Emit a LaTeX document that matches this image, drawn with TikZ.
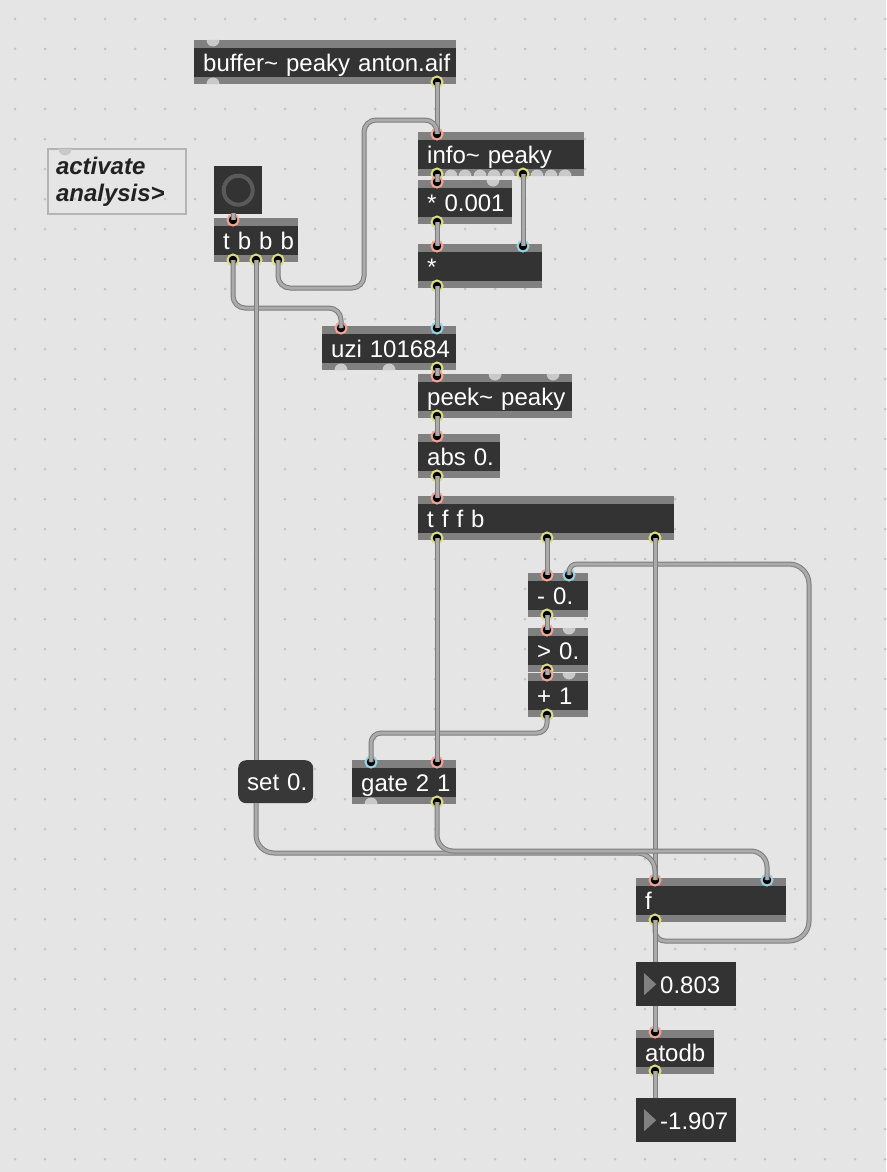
\documentclass[tikz,border=0pt]{standalone}
\usepackage{fontspec}
\newfontfamily\maxfont{Liberation Sans}[Ligatures=NoCommon]
\definecolor{patchbg}{HTML}{E5E5E5}
\definecolor{gridgray}{HTML}{C4C4C4}
\definecolor{boxdark}{HTML}{333333}
\definecolor{msgdark}{HTML}{383838}
\definecolor{bandgray}{HTML}{808080}
\definecolor{portgray}{HTML}{C9C9C9}
\definecolor{porthot}{HTML}{F2A595}
\definecolor{portcold}{HTML}{96D4E4}
\definecolor{portout}{HTML}{DCDC82}
\definecolor{cordedge}{HTML}{7C7C7C}
\definecolor{cordfill}{HTML}{ABABAB}
\definecolor{commentline}{HTML}{B4B4B4}
\definecolor{commentink}{HTML}{222222}
\definecolor{bangring}{HTML}{5A5A5A}

\begin{document}
\begin{tikzpicture}[x=1pt,y=-1pt,
  maxtext/.style={font={\maxfont\fontsize{24}{27}\selectfont},text=white,anchor=north west,inner sep=0pt,align=left,text height=20pt,text depth=2pt},
  obj/.style={maxtext,fill=boxdark,text width=#1,minimum height=44pt,execute at begin node={\leftskip=9pt},
    path picture={\fill[bandgray] (path picture bounding box.north west) rectangle ([yshift=-8pt]path picture bounding box.north east);
      \fill[bandgray] (path picture bounding box.south west) rectangle ([yshift=7pt]path picture bounding box.south east);}},
  msg/.style={maxtext,fill=msgdark,rounded corners=8pt,text width=#1,minimum height=43pt,execute at begin node={\leftskip=9pt}},
  numbox/.style={maxtext,fill=boxdark,text width=100pt,minimum height=44pt,execute at begin node={\leftskip=24pt},
    path picture={\fill[bandgray] ([xshift=8pt,yshift=-11pt]path picture bounding box.north west) -- ([xshift=8pt,yshift=-33pt]path picture bounding box.north west) -- ([xshift=20pt,yshift=-22pt]path picture bounding box.north west) -- cycle;}},
  comment/.style={draw=commentline,line width=2pt,anchor=north west,inner sep=0pt,text width=138pt,minimum height=65pt,align=left,text=commentink,
    font={\maxfont\bfseries\itshape\fontsize{24}{27}\selectfont},execute at begin node={\leftskip=8pt}},
  bangbox/.style={fill=boxdark,anchor=north west,minimum size=48pt,inner sep=0pt,
    path picture={\draw[bangring,line width=4pt] (path picture bounding box.center) circle (14.5pt);}},
  port/.style={circle,fill=black,line width=2pt,inner sep=0pt,minimum size=11pt},
  hot/.style={port,draw=porthot},
  cold/.style={port,draw=portcold},
  outp/.style={port,draw=portout},
  cord/.style={draw=cordedge,line width=5pt,rounded corners=#1,postaction={draw=cordfill,line width=3pt}},
  cord/.default=12pt]
\fill[patchbg] (0,0) rectangle (886,1172);
\useasboundingbox (0,0) rectangle (886,1172);
\foreach \i in {0,...,29}
  \foreach \j in {0,...,38}
    \fill[gridgray] (15+30*\i,19+30*\j) circle (1.5pt);

\node[comment] (note) at (47,148) {activate\\analysis>};
\node[obj=262pt] (buf) at (194,40) {buffer\textasciitilde{} peaky anton.aif};
\node[obj=166pt] (info) at (418,132) {info\textasciitilde{} peaky};
\node[obj=94pt] (mulk) at (418,180) {* 0.001};
\node[obj=124pt] (mul) at (418,244) {*};
\node[bangbox] (bang) at (214,166) {};
\node[obj=84pt] (tbbb) at (214,218) {t b b b};
\node[obj=134pt] (uzi) at (322,326) {uzi 101684};
\node[obj=154pt] (peek) at (418,374) {peek\textasciitilde{} peaky};
\node[obj=82pt] (abs) at (418,434) {abs 0.};
\node[obj=256pt] (tffb) at (418,496) {t f f b};
\node[obj=60pt] (sub) at (528,573) {- 0.};
\node[obj=60pt] (gt) at (528,628) {> 0.};
\node[obj=60pt] (plus) at (528,673) {+ 1};
\node[msg=75pt] (setz) at (238,760) {set 0.};
\node[obj=104pt] (gate) at (352,760) {gate 2 1};
\node[obj=150pt] (accum) at (636,878) {f};
\node[numbox] (numa) at (636,962) {0.803};
\node[obj=78pt] (atodb) at (636,1030) {atodb};
\node[numbox] (numb) at (636,1098) {-1.907};

\foreach \px/\py in {213/40,493/180,495/374,553/374,569/628,569/673,65/149}
  \fill[portgray] (\px+6.5,\py) arc[start angle=0,end angle=180,radius=6.5];
\foreach \px/\py in {213/84,451/176,465/176,480/176,494/176,508/176,537/176,551/176,565/176,341/370,389/370,371/804}
  \fill[portgray] (\px-6.5,\py) arc[start angle=180,end angle=360,radius=6.5];

\node[outp] (buf-out) at (437,82) {};
\node[hot] (info-in) at (437,134) {};
\node[outp] (info-o1) at (437,174) {};
\node[outp] (info-o7) at (523,174) {};
\node[hot] (mulk-in) at (437,182) {};
\node[outp] (mulk-out) at (437,222) {};
\node[hot] (mul-in) at (437,246) {};
\node[cold] (mul-in2) at (523,246) {};
\node[outp] (mul-out) at (437,286) {};
\node[hot] (tbbb-in) at (233,220) {};
\node[outp] (tbbb-o1) at (233,260) {};
\node[outp] (tbbb-o2) at (256,260) {};
\node[outp] (tbbb-o3) at (278,260) {};
\node[hot] (uzi-in) at (341,328) {};
\node[cold] (uzi-in2) at (437,328) {};
\node[outp] (uzi-o3) at (437,368) {};
\node[hot] (peek-in) at (437,376) {};
\node[outp] (peek-out) at (437,416) {};
\node[hot] (abs-in) at (437,436) {};
\node[outp] (abs-out) at (437,476) {};
\node[hot] (tffb-in) at (437,498) {};
\node[outp] (tffb-o1) at (437,538) {};
\node[outp] (tffb-o2) at (547,538) {};
\node[outp] (tffb-o3) at (655,538) {};
\node[hot] (sub-in) at (547,575) {};
\node[cold] (sub-in2) at (569,575) {};
\node[outp] (sub-out) at (547,615) {};
\node[hot] (gt-in) at (547,630) {};
\node[outp] (gt-out) at (547,670) {};
\node[hot] (plus-in) at (547,675) {};
\node[outp] (plus-out) at (547,715) {};
\node[cold] (gate-in) at (371,762) {};
\node[hot] (gate-in2) at (437,762) {};
\node[outp] (gate-out) at (437,802) {};
\node[hot] (accum-in) at (655,880) {};
\node[cold] (accum-in2) at (767,880) {};
\node[outp] (accum-out) at (655,920) {};
\node[hot] (atodb-in) at (655,1032) {};
\node[outp] (atodb-out) at (655,1071) {};
\coordinate (bang-out) at (233,213);
\coordinate (setz-in) at (256,760);
\coordinate (setz-out) at (256,803);
\coordinate (numa-in) at (655,962);
\coordinate (numa-out) at (655,1006);
\coordinate (numb-in) at (655,1098);

\draw[cord] (buf-out.center) -- (info-in.center);
\draw[cord] (tbbb-o3.center) -- (278,288) -- (364,288) -- (364,120) -- (437,120) -- (info-in.center);
\draw[cord] (bang-out) -- (tbbb-in.center);
\draw[cord] (tbbb-o1.center) -- (233,308) -- (341,308) -- (uzi-in.center);
\draw[cord] (tbbb-o2.center) -- (setz-in);
\draw[cord] (info-o1.center) -- (mulk-in.center);
\draw[cord] (info-o7.center) -- (mul-in2.center);
\draw[cord] (mulk-out.center) -- (mul-in.center);
\draw[cord] (mul-out.center) -- (uzi-in2.center);
\draw[cord] (uzi-o3.center) -- (peek-in.center);
\draw[cord] (peek-out.center) -- (abs-in.center);
\draw[cord] (abs-out.center) -- (tffb-in.center);
\draw[cord=10pt] (accum-out.center) -- (655,941) [rounded corners=20pt] -- (809,941) -- (809,564) [rounded corners=8pt] -- (569,564) -- (sub-in2.center);
\draw[cord] (tffb-o2.center) -- (sub-in.center);
\draw[cord] (tffb-o3.center) -- (accum-in.center);
\draw[cord] (sub-out.center) -- (gt-in.center);
\draw[cord] (gt-out.center) -- (plus-in.center);
\draw[cord=10pt] (plus-out.center) -- (547,733) -- (371,733) -- (gate-in.center);
\draw[cord] (tffb-o1.center) -- (gate-in2.center);
\draw[cord=18pt] (setz-out) -- (256,853) -- (655,853) -- (accum-in.center);
\draw[cord=16pt] (gate-out.center) -- (437,851) -- (767,851) -- (accum-in2.center);
\draw[cord] (accum-out.center) -- (numa-in);
\draw[cord] (numa-out) -- (atodb-in.center);
\draw[cord] (atodb-out.center) -- (numb-in);
\end{tikzpicture}
\end{document}
